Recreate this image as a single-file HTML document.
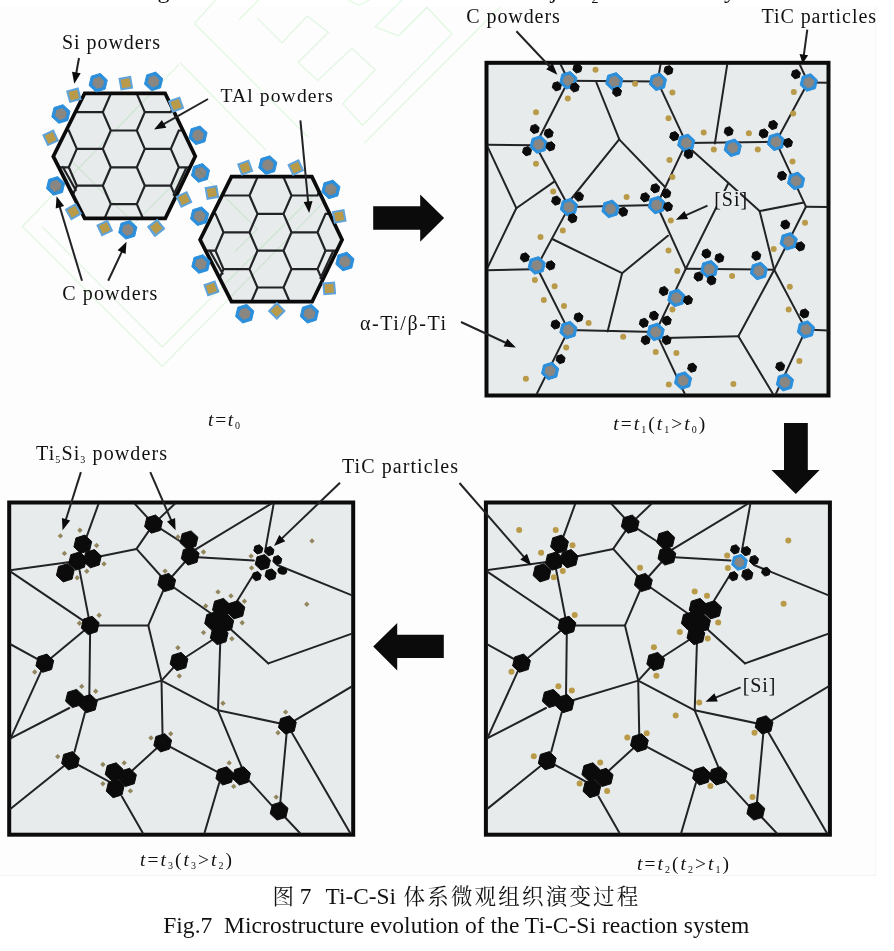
<!DOCTYPE html>
<html lang="zh"><head><meta charset="utf-8"><title>Fig.7</title>
<style>
html,body{margin:0;padding:0;background:#fff;}
body{width:894px;height:951px;overflow:hidden;position:relative;}
svg{position:absolute;left:0;top:0;display:block;will-change:transform;}
text{font-family:"Liberation Serif","Noto Serif CJK SC",serif;fill:#111;}
.cj{font-family:"Liberation Serif","Noto Serif CJK SC",serif;}
.it{font-style:italic;}
</style></head><body>
<svg width="894" height="951" viewBox="0 0 894 951">
<rect x="0" y="0" width="894" height="951" fill="#ffffff"/>
<rect x="0" y="6.5" width="875.7" height="869" fill="#fdfdfd"/>
<path d="M0,875.5H875.7V6.5" fill="none" stroke="#f1f1f1" stroke-width="0.8"/>
<text x="157.5" y="-2.4" font-size="24">g</text>
<text x="550.5" y="-2.4" font-size="24">j</text>
<text x="724" y="-2.4" font-size="24">y</text>
<text x="591.5" y="2.6" font-size="14">2</text>
<clipPath id="hc1"><polygon points="84.7,93.3 165.1,93.3 195.3,156.3 165.3,218.3 84.7,218.3 53.3,156.4"/></clipPath>
<polygon points="84.7,93.3 165.1,93.3 195.3,156.3 165.3,218.3 84.7,218.3 53.3,156.4" fill="#e8ebec"/>
<path clip-path="url(#hc1)" d="M76.8,112.1L68.8,93.7M42.8,130.5L68.8,130.5M76.8,148.9L68.8,130.5M68.8,167.3L76.8,148.9M42.8,167.3L68.8,167.3M76.8,185.7L68.8,167.3M68.8,204.1L76.8,185.7M110.8,93.7L102.8,75.3M102.8,112.1L110.8,93.7M76.8,112.1L102.8,112.1M110.8,130.5L102.8,112.1M102.8,148.9L110.8,130.5M76.8,148.9L102.8,148.9M110.8,167.3L102.8,148.9M102.8,185.7L110.8,167.3M76.8,185.7L102.8,185.7M110.8,204.1L102.8,185.7M102.8,222.5L110.8,204.1M136.8,93.7L144.8,75.3M144.8,112.1L136.8,93.7M136.8,130.5L144.8,112.1M110.8,130.5L136.8,130.5M144.8,148.9L136.8,130.5M136.8,167.3L144.8,148.9M110.8,167.3L136.8,167.3M144.8,185.7L136.8,167.3M136.8,204.1L144.8,185.7M110.8,204.1L136.8,204.1M144.8,222.5L136.8,204.1M170.8,112.1L178.8,93.7M144.8,112.1L170.8,112.1M170.8,148.9L178.8,130.5M144.8,148.9L170.8,148.9M178.8,167.3L170.8,148.9M170.8,185.7L178.8,167.3M144.8,185.7L170.8,185.7M178.8,204.1L170.8,185.7M178.8,130.5L204.8,130.5M178.8,167.3L204.8,167.3M62.8,167.0L75.8,190.1M186.1,168.2L173.7,194.8" fill="none" stroke="#222326" stroke-width="2.2" stroke-linecap="round"/>
<polygon points="84.7,93.3 165.1,93.3 195.3,156.3 165.3,218.3 84.7,218.3 53.3,156.4" fill="none" stroke="#0b0b0b" stroke-width="3.7" stroke-linejoin="miter"/>
<clipPath id="hc2"><polygon points="231.5,176.7 311.9,176.7 342.1,239.7 312.1,301.7 231.5,301.7 200.1,239.8"/></clipPath>
<polygon points="231.5,176.7 311.9,176.7 342.1,239.7 312.1,301.7 231.5,301.7 200.1,239.8" fill="#e8ebec"/>
<path clip-path="url(#hc2)" d="M223.5,195.5L215.5,177.1M189.5,213.9L215.5,213.9M223.5,232.3L215.5,213.9M215.5,250.7L223.5,232.3M189.5,250.7L215.5,250.7M223.5,269.1L215.5,250.7M215.5,287.5L223.5,269.1M257.5,177.1L249.5,158.7M249.5,195.5L257.5,177.1M223.5,195.5L249.5,195.5M257.5,213.9L249.5,195.5M249.5,232.3L257.5,213.9M223.5,232.3L249.5,232.3M257.5,250.7L249.5,232.3M249.5,269.1L257.5,250.7M223.5,269.1L249.5,269.1M257.5,287.5L249.5,269.1M249.5,305.9L257.5,287.5M283.5,177.1L291.5,158.7M291.5,195.5L283.5,177.1M283.5,213.9L291.5,195.5M257.5,213.9L283.5,213.9M291.5,232.3L283.5,213.9M283.5,250.7L291.5,232.3M257.5,250.7L283.5,250.7M291.5,269.1L283.5,250.7M283.5,287.5L291.5,269.1M257.5,287.5L283.5,287.5M291.5,305.9L283.5,287.5M317.5,195.5L325.5,177.1M291.5,195.5L317.5,195.5M317.5,232.3L325.5,213.9M291.5,232.3L317.5,232.3M325.5,250.7L317.5,232.3M317.5,269.1L325.5,250.7M291.5,269.1L317.5,269.1M325.5,287.5L317.5,269.1M325.5,213.9L351.5,213.9M325.5,250.7L351.5,250.7M209.6,250.4L222.6,273.5M332.9,251.6L320.5,278.2" fill="none" stroke="#222326" stroke-width="2.2" stroke-linecap="round"/>
<polygon points="231.5,176.7 311.9,176.7 342.1,239.7 312.1,301.7 231.5,301.7 200.1,239.8" fill="none" stroke="#0b0b0b" stroke-width="3.7" stroke-linejoin="miter"/>
<polygon points="107.3,79.9 105.1,89.2 96.1,92.0 89.1,85.5 91.3,76.2 100.3,73.4" fill="#2b8fdc" stroke="#2b8fdc" stroke-width="1" stroke-linejoin="round"/>
<polygon points="103.6,81.1 102.3,86.5 96.9,88.2 92.8,84.3 94.1,78.9 99.5,77.2" fill="#8a8682" stroke="#8a8682" stroke-width="1" stroke-linejoin="round"/>
<polygon points="162.7,78.6 160.5,87.9 151.5,90.7 144.5,84.2 146.7,74.9 155.7,72.1" fill="#2b8fdc" stroke="#2b8fdc" stroke-width="1" stroke-linejoin="round"/>
<polygon points="159.0,79.8 157.7,85.2 152.3,86.9 148.2,83.0 149.5,77.6 154.9,75.9" fill="#8a8682" stroke="#8a8682" stroke-width="1" stroke-linejoin="round"/>
<polygon points="207.1,132.5 204.9,141.8 195.9,144.6 188.9,138.1 191.1,128.8 200.1,126.0" fill="#2b8fdc" stroke="#2b8fdc" stroke-width="1" stroke-linejoin="round"/>
<polygon points="203.4,133.7 202.1,139.1 196.7,140.8 192.6,136.9 193.9,131.5 199.3,129.8" fill="#8a8682" stroke="#8a8682" stroke-width="1" stroke-linejoin="round"/>
<polygon points="209.6,170.1 207.4,179.4 198.4,182.2 191.4,175.7 193.6,166.4 202.6,163.6" fill="#2b8fdc" stroke="#2b8fdc" stroke-width="1" stroke-linejoin="round"/>
<polygon points="205.9,171.3 204.6,176.7 199.2,178.4 195.1,174.5 196.4,169.1 201.8,167.4" fill="#8a8682" stroke="#8a8682" stroke-width="1" stroke-linejoin="round"/>
<polygon points="208.7,213.4 206.5,222.7 197.5,225.5 190.5,219.0 192.7,209.7 201.7,206.9" fill="#2b8fdc" stroke="#2b8fdc" stroke-width="1" stroke-linejoin="round"/>
<polygon points="205.0,214.6 203.7,220.0 198.3,221.7 194.2,217.8 195.5,212.4 200.9,210.7" fill="#8a8682" stroke="#8a8682" stroke-width="1" stroke-linejoin="round"/>
<polygon points="136.9,227.0 134.7,236.3 125.7,239.1 118.7,232.6 120.9,223.3 129.9,220.5" fill="#2b8fdc" stroke="#2b8fdc" stroke-width="1" stroke-linejoin="round"/>
<polygon points="133.2,228.2 131.9,233.6 126.5,235.3 122.4,231.4 123.7,226.0 129.1,224.3" fill="#8a8682" stroke="#8a8682" stroke-width="1" stroke-linejoin="round"/>
<polygon points="64.7,183.1 62.5,192.4 53.5,195.2 46.5,188.7 48.7,179.4 57.7,176.6" fill="#2b8fdc" stroke="#2b8fdc" stroke-width="1" stroke-linejoin="round"/>
<polygon points="61.0,184.3 59.7,189.7 54.3,191.4 50.2,187.5 51.5,182.1 56.9,180.4" fill="#8a8682" stroke="#8a8682" stroke-width="1" stroke-linejoin="round"/>
<polygon points="70.0,111.2 67.8,120.5 58.8,123.3 51.8,116.8 54.0,107.5 63.0,104.7" fill="#2b8fdc" stroke="#2b8fdc" stroke-width="1" stroke-linejoin="round"/>
<polygon points="66.3,112.4 65.0,117.8 59.6,119.5 55.5,115.6 56.8,110.2 62.2,108.5" fill="#8a8682" stroke="#8a8682" stroke-width="1" stroke-linejoin="round"/>
<polygon points="276.9,162.3 274.7,171.6 265.7,174.4 258.7,167.9 260.9,158.6 269.9,155.8" fill="#2b8fdc" stroke="#2b8fdc" stroke-width="1" stroke-linejoin="round"/>
<polygon points="273.2,163.5 271.9,168.9 266.5,170.6 262.4,166.7 263.7,161.3 269.1,159.6" fill="#8a8682" stroke="#8a8682" stroke-width="1" stroke-linejoin="round"/>
<polygon points="340.0,186.6 337.8,195.9 328.8,198.7 321.8,192.2 324.0,182.9 333.0,180.1" fill="#2b8fdc" stroke="#2b8fdc" stroke-width="1" stroke-linejoin="round"/>
<polygon points="336.3,187.8 335.0,193.2 329.6,194.9 325.5,191.0 326.8,185.6 332.2,183.9" fill="#8a8682" stroke="#8a8682" stroke-width="1" stroke-linejoin="round"/>
<polygon points="354.0,258.7 351.8,268.0 342.8,270.8 335.8,264.3 338.0,255.0 347.0,252.2" fill="#2b8fdc" stroke="#2b8fdc" stroke-width="1" stroke-linejoin="round"/>
<polygon points="350.3,259.9 349.0,265.3 343.6,267.0 339.5,263.1 340.8,257.7 346.2,256.0" fill="#8a8682" stroke="#8a8682" stroke-width="1" stroke-linejoin="round"/>
<polygon points="318.5,310.9 316.3,320.2 307.3,323.0 300.3,316.5 302.5,307.2 311.5,304.4" fill="#2b8fdc" stroke="#2b8fdc" stroke-width="1" stroke-linejoin="round"/>
<polygon points="314.8,312.1 313.5,317.5 308.1,319.2 304.0,315.3 305.3,309.9 310.7,308.2" fill="#8a8682" stroke="#8a8682" stroke-width="1" stroke-linejoin="round"/>
<polygon points="253.8,310.9 251.6,320.2 242.6,323.0 235.6,316.5 237.8,307.2 246.8,304.4" fill="#2b8fdc" stroke="#2b8fdc" stroke-width="1" stroke-linejoin="round"/>
<polygon points="250.1,312.1 248.8,317.5 243.4,319.2 239.3,315.3 240.6,309.9 246.0,308.2" fill="#8a8682" stroke="#8a8682" stroke-width="1" stroke-linejoin="round"/>
<polygon points="210.0,261.2 207.8,270.5 198.8,273.3 191.8,266.8 194.0,257.5 203.0,254.7" fill="#2b8fdc" stroke="#2b8fdc" stroke-width="1" stroke-linejoin="round"/>
<polygon points="206.3,262.4 205.0,267.8 199.6,269.5 195.5,265.6 196.8,260.2 202.2,258.5" fill="#8a8682" stroke="#8a8682" stroke-width="1" stroke-linejoin="round"/>
<rect x="-5.4" y="-5.4" width="10.8" height="10.8" fill="#b99a48" stroke="#5fa3da" stroke-width="2.0" transform="translate(73.9,95.2) rotate(-15)"/>
<rect x="-5.4" y="-5.4" width="10.8" height="10.8" fill="#b99a48" stroke="#5fa3da" stroke-width="2.0" transform="translate(125.8,83.2) rotate(-10)"/>
<rect x="-5.4" y="-5.4" width="10.8" height="10.8" fill="#b99a48" stroke="#5fa3da" stroke-width="2.0" transform="translate(176.1,104.7) rotate(-20)"/>
<rect x="-5.4" y="-5.4" width="10.8" height="10.8" fill="#b99a48" stroke="#5fa3da" stroke-width="2.0" transform="translate(211.9,192.5) rotate(-10)"/>
<rect x="-5.4" y="-5.4" width="10.8" height="10.8" fill="#b99a48" stroke="#5fa3da" stroke-width="2.0" transform="translate(184.0,199.4) rotate(-25)"/>
<rect x="-5.4" y="-5.4" width="10.8" height="10.8" fill="#b99a48" stroke="#5fa3da" stroke-width="2.0" transform="translate(155.9,228.0) rotate(-35)"/>
<rect x="-5.4" y="-5.4" width="10.8" height="10.8" fill="#b99a48" stroke="#5fa3da" stroke-width="2.0" transform="translate(104.7,228.0) rotate(-25)"/>
<rect x="-5.4" y="-5.4" width="10.8" height="10.8" fill="#b99a48" stroke="#5fa3da" stroke-width="2.0" transform="translate(73.4,211.7) rotate(-30)"/>
<rect x="-5.4" y="-5.4" width="10.8" height="10.8" fill="#b99a48" stroke="#5fa3da" stroke-width="2.0" transform="translate(50.6,137.8) rotate(-25)"/>
<rect x="-5.4" y="-5.4" width="10.8" height="10.8" fill="#b99a48" stroke="#5fa3da" stroke-width="2.0" transform="translate(245.2,167.6) rotate(-20)"/>
<rect x="-5.4" y="-5.4" width="10.8" height="10.8" fill="#b99a48" stroke="#5fa3da" stroke-width="2.0" transform="translate(295.8,167.6) rotate(-25)"/>
<rect x="-5.4" y="-5.4" width="10.8" height="10.8" fill="#b99a48" stroke="#5fa3da" stroke-width="2.0" transform="translate(339.2,216.4) rotate(-10)"/>
<rect x="-5.4" y="-5.4" width="10.8" height="10.8" fill="#b99a48" stroke="#5fa3da" stroke-width="2.0" transform="translate(329.2,288.4) rotate(-5)"/>
<rect x="-5.4" y="-5.4" width="10.8" height="10.8" fill="#b99a48" stroke="#5fa3da" stroke-width="2.0" transform="translate(276.8,310.9) rotate(-45)"/>
<rect x="-5.4" y="-5.4" width="10.8" height="10.8" fill="#b99a48" stroke="#5fa3da" stroke-width="2.0" transform="translate(211.4,288.4) rotate(-20)"/>
<rect x="-5.4" y="-5.4" width="10.8" height="10.8" fill="#b99a48" stroke="#5fa3da" stroke-width="2.0" transform="translate(156.3,227.7) rotate(-40)"/>
<line x1="79.0" y1="58.0" x2="76.0" y2="74.5" stroke="#222326" stroke-width="2.0"/>
<polygon points="74.3,83.8 72.0,71.7 80.7,73.3" fill="#0b0b0b"/>
<line x1="208.0" y1="99.0" x2="162.4" y2="124.8" stroke="#222326" stroke-width="2.0"/>
<polygon points="154.1,129.5 161.9,120.0 166.3,127.7" fill="#0b0b0b"/>
<line x1="300.4" y1="120.3" x2="308.3" y2="203.5" stroke="#222326" stroke-width="2.0"/>
<polygon points="309.2,213.0 303.7,202.0 312.5,201.1" fill="#0b0b0b"/>
<line x1="82.0" y1="280.7" x2="59.3" y2="205.4" stroke="#222326" stroke-width="2.0"/>
<polygon points="56.6,196.3 64.1,206.0 55.7,208.6" fill="#0b0b0b"/>
<line x1="108.2" y1="280.7" x2="122.5" y2="250.4" stroke="#222326" stroke-width="2.0"/>
<polygon points="126.5,241.8 125.6,254.1 117.6,250.3" fill="#0b0b0b"/>
<polygon points="373.2,206.2 420.2,206.2 420.2,194.4 444.1,218 420.2,241.7 420.2,229.7 373.2,229.7" fill="#0b0b0b"/>
<polygon points="784,422.9 807.8,422.9 807.8,469.9 819.6,469.9 795.8,494.1 771.5,469.9 784,469.9" fill="#0b0b0b"/>
<polygon points="373.2,646.6 397.2,623.1 397.2,634.8 443.8,634.8 443.8,658 397.2,658 397.2,670.5" fill="#0b0b0b"/>
<rect x="486.5" y="62.8" width="342.0" height="332.7" fill="#e8ebec" stroke="#0b0b0b" stroke-width="4"/>
<clipPath id="pc2"><rect x="487.5" y="63.8" width="340.0" height="330.7"/></clipPath>
<g clip-path="url(#pc2)">
<line x1="568.4" y1="80.8" x2="657.6" y2="81.6" stroke="#222326" stroke-width="2.0" stroke-linecap="round"/>
<line x1="568.4" y1="80.8" x2="535.4" y2="145.2" stroke="#222326" stroke-width="2.0" stroke-linecap="round"/>
<line x1="535.4" y1="145.2" x2="568.9" y2="207.1" stroke="#222326" stroke-width="2.0" stroke-linecap="round"/>
<line x1="568.9" y1="207.1" x2="656.8" y2="205.0" stroke="#222326" stroke-width="2.0" stroke-linecap="round"/>
<line x1="657.6" y1="81.6" x2="686.2" y2="142.9" stroke="#222326" stroke-width="2.0" stroke-linecap="round"/>
<line x1="686.2" y1="142.9" x2="656.8" y2="205.0" stroke="#222326" stroke-width="2.0" stroke-linecap="round"/>
<line x1="686.2" y1="142.9" x2="776.0" y2="141.8" stroke="#222326" stroke-width="2.0" stroke-linecap="round"/>
<line x1="776.0" y1="141.8" x2="805.9" y2="206.7" stroke="#222326" stroke-width="2.0" stroke-linecap="round"/>
<line x1="805.9" y1="206.7" x2="774.2" y2="269.7" stroke="#222326" stroke-width="2.0" stroke-linecap="round"/>
<line x1="774.2" y1="269.7" x2="685.8" y2="268.8" stroke="#222326" stroke-width="2.0" stroke-linecap="round"/>
<line x1="685.8" y1="268.8" x2="656.8" y2="205.0" stroke="#222326" stroke-width="2.0" stroke-linecap="round"/>
<line x1="568.9" y1="207.1" x2="536.7" y2="267.0" stroke="#222326" stroke-width="2.0" stroke-linecap="round"/>
<line x1="536.7" y1="267.0" x2="568.4" y2="330.1" stroke="#222326" stroke-width="2.0" stroke-linecap="round"/>
<line x1="568.4" y1="330.1" x2="655.7" y2="331.9" stroke="#222326" stroke-width="2.0" stroke-linecap="round"/>
<line x1="655.7" y1="331.9" x2="685.8" y2="268.8" stroke="#222326" stroke-width="2.0" stroke-linecap="round"/>
<line x1="774.2" y1="269.7" x2="805.9" y2="329.6" stroke="#222326" stroke-width="2.0" stroke-linecap="round"/>
<line x1="808.0" y1="82.5" x2="776.0" y2="141.8" stroke="#222326" stroke-width="2.0" stroke-linecap="round"/>
<line x1="568.4" y1="80.8" x2="558.5" y2="60.0" stroke="#222326" stroke-width="2.0" stroke-linecap="round"/>
<line x1="657.6" y1="81.6" x2="661.3" y2="60.0" stroke="#222326" stroke-width="2.0" stroke-linecap="round"/>
<line x1="808.0" y1="82.5" x2="797.7" y2="60.0" stroke="#222326" stroke-width="2.0" stroke-linecap="round"/>
<line x1="808.0" y1="82.5" x2="832.0" y2="82.8" stroke="#222326" stroke-width="2.0" stroke-linecap="round"/>
<line x1="805.9" y1="206.7" x2="832.0" y2="207.0" stroke="#222326" stroke-width="2.0" stroke-linecap="round"/>
<line x1="805.9" y1="329.6" x2="832.0" y2="330.6" stroke="#222326" stroke-width="2.0" stroke-linecap="round"/>
<line x1="480.0" y1="144.8" x2="535.4" y2="145.2" stroke="#222326" stroke-width="2.0" stroke-linecap="round"/>
<line x1="480.0" y1="270.4" x2="532.0" y2="269.3" stroke="#222326" stroke-width="2.0" stroke-linecap="round"/>
<line x1="568.4" y1="330.1" x2="535.2" y2="397.0" stroke="#222326" stroke-width="2.0" stroke-linecap="round"/>
<line x1="655.7" y1="331.9" x2="686.7" y2="398.0" stroke="#222326" stroke-width="2.0" stroke-linecap="round"/>
<line x1="805.9" y1="329.6" x2="773.9" y2="398.0" stroke="#222326" stroke-width="2.0" stroke-linecap="round"/>
<line x1="596.4" y1="82.5" x2="619.4" y2="139.6" stroke="#222326" stroke-width="2.0" stroke-linecap="round"/>
<line x1="619.0" y1="139.6" x2="565.5" y2="206.0" stroke="#222326" stroke-width="2.0" stroke-linecap="round"/>
<line x1="619.4" y1="139.6" x2="665.0" y2="187.0" stroke="#222326" stroke-width="2.0" stroke-linecap="round"/>
<line x1="487.9" y1="147.4" x2="516.3" y2="208.2" stroke="#222326" stroke-width="2.0" stroke-linecap="round"/>
<line x1="516.3" y1="208.2" x2="554.6" y2="181.4" stroke="#222326" stroke-width="2.0" stroke-linecap="round"/>
<line x1="516.3" y1="208.2" x2="487.9" y2="267.0" stroke="#222326" stroke-width="2.0" stroke-linecap="round"/>
<line x1="727.6" y1="62.0" x2="714.9" y2="143.4" stroke="#222326" stroke-width="2.0" stroke-linecap="round"/>
<line x1="686.2" y1="145.0" x2="759.6" y2="211.1" stroke="#222326" stroke-width="2.0" stroke-linecap="round"/>
<line x1="759.6" y1="211.1" x2="803.8" y2="202.6" stroke="#222326" stroke-width="2.0" stroke-linecap="round"/>
<line x1="759.6" y1="211.1" x2="774.2" y2="269.7" stroke="#222326" stroke-width="2.0" stroke-linecap="round"/>
<line x1="728.3" y1="183.2" x2="685.8" y2="268.8" stroke="#222326" stroke-width="2.0" stroke-linecap="round"/>
<line x1="552.3" y1="239.0" x2="622.1" y2="273.2" stroke="#222326" stroke-width="2.0" stroke-linecap="round"/>
<line x1="622.1" y1="273.2" x2="667.9" y2="235.7" stroke="#222326" stroke-width="2.0" stroke-linecap="round"/>
<line x1="622.1" y1="273.2" x2="607.6" y2="331.4" stroke="#222326" stroke-width="2.0" stroke-linecap="round"/>
<line x1="774.2" y1="269.7" x2="738.4" y2="336.3" stroke="#222326" stroke-width="2.0" stroke-linecap="round"/>
<line x1="738.4" y1="336.3" x2="664.0" y2="338.0" stroke="#222326" stroke-width="2.0" stroke-linecap="round"/>
<line x1="738.4" y1="336.3" x2="774.2" y2="396.0" stroke="#222326" stroke-width="2.0" stroke-linecap="round"/>
<circle cx="595.5" cy="69.8" r="3.0" fill="#b99a48"/>
<circle cx="635.1" cy="83.8" r="3.0" fill="#b99a48"/>
<circle cx="567.8" cy="98.6" r="3.0" fill="#b99a48"/>
<circle cx="536.0" cy="112.3" r="3.0" fill="#b99a48"/>
<circle cx="536.0" cy="163.7" r="3.0" fill="#b99a48"/>
<circle cx="553.2" cy="191.5" r="3.0" fill="#b99a48"/>
<circle cx="626.6" cy="197.0" r="3.0" fill="#b99a48"/>
<circle cx="562.8" cy="230.6" r="3.0" fill="#b99a48"/>
<circle cx="540.5" cy="236.9" r="3.0" fill="#b99a48"/>
<circle cx="668.5" cy="118.3" r="3.0" fill="#b99a48"/>
<circle cx="669.5" cy="160.0" r="3.0" fill="#b99a48"/>
<circle cx="672.4" cy="92.6" r="3.0" fill="#b99a48"/>
<circle cx="703.7" cy="132.4" r="3.0" fill="#b99a48"/>
<circle cx="713.8" cy="149.6" r="3.0" fill="#b99a48"/>
<circle cx="748.9" cy="133.3" r="3.0" fill="#b99a48"/>
<circle cx="757.8" cy="149.6" r="3.0" fill="#b99a48"/>
<circle cx="793.8" cy="91.9" r="3.0" fill="#b99a48"/>
<circle cx="793.2" cy="113.4" r="3.0" fill="#b99a48"/>
<circle cx="792.5" cy="161.5" r="3.0" fill="#b99a48"/>
<circle cx="672.4" cy="177.1" r="3.0" fill="#b99a48"/>
<circle cx="670.8" cy="220.4" r="3.0" fill="#b99a48"/>
<circle cx="805.0" cy="222.8" r="3.0" fill="#b99a48"/>
<circle cx="534.9" cy="280.0" r="3.0" fill="#b99a48"/>
<circle cx="554.6" cy="286.2" r="3.0" fill="#b99a48"/>
<circle cx="543.8" cy="299.9" r="3.0" fill="#b99a48"/>
<circle cx="564.0" cy="306.1" r="3.0" fill="#b99a48"/>
<circle cx="588.6" cy="322.9" r="3.0" fill="#b99a48"/>
<circle cx="623.2" cy="336.8" r="3.0" fill="#b99a48"/>
<circle cx="566.2" cy="347.5" r="3.0" fill="#b99a48"/>
<circle cx="525.9" cy="378.8" r="3.0" fill="#b99a48"/>
<circle cx="655.7" cy="352.0" r="3.0" fill="#b99a48"/>
<circle cx="668.5" cy="250.6" r="3.0" fill="#b99a48"/>
<circle cx="668.8" cy="384.4" r="3.0" fill="#b99a48"/>
<circle cx="773.7" cy="249.1" r="3.0" fill="#b99a48"/>
<circle cx="677.3" cy="271.0" r="3.0" fill="#b99a48"/>
<circle cx="732.1" cy="275.9" r="3.0" fill="#b99a48"/>
<circle cx="789.8" cy="286.7" r="3.0" fill="#b99a48"/>
<circle cx="788.7" cy="309.5" r="3.0" fill="#b99a48"/>
<circle cx="672.4" cy="309.5" r="3.0" fill="#b99a48"/>
<circle cx="676.4" cy="353.1" r="3.0" fill="#b99a48"/>
<circle cx="799.4" cy="360.9" r="3.0" fill="#b99a48"/>
<circle cx="733.4" cy="384.0" r="3.0" fill="#b99a48"/>
<polygon points="577.0,77.7 575.0,86.4 566.4,89.1 559.8,82.9 561.8,74.2 570.4,71.5" fill="#2b8fdc" stroke="#2b8fdc" stroke-width="1" stroke-linejoin="round"/>
<polygon points="573.5,78.7 572.3,83.9 567.2,85.5 563.3,81.9 564.5,76.7 569.6,75.1" fill="#8a8682" stroke="#8a8682" stroke-width="1" stroke-linejoin="round"/>
<polygon points="622.9,78.8 620.9,87.5 612.3,90.2 605.7,84.0 607.7,75.3 616.3,72.6" fill="#2b8fdc" stroke="#2b8fdc" stroke-width="1" stroke-linejoin="round"/>
<polygon points="619.4,79.8 618.2,85.0 613.1,86.6 609.2,83.0 610.4,77.8 615.5,76.2" fill="#8a8682" stroke="#8a8682" stroke-width="1" stroke-linejoin="round"/>
<polygon points="666.5,79.2 664.5,87.9 655.9,90.6 649.3,84.4 651.3,75.7 659.9,73.0" fill="#2b8fdc" stroke="#2b8fdc" stroke-width="1" stroke-linejoin="round"/>
<polygon points="663.0,80.2 661.8,85.4 656.7,87.0 652.8,83.4 654.0,78.2 659.1,76.6" fill="#8a8682" stroke="#8a8682" stroke-width="1" stroke-linejoin="round"/>
<polygon points="817.4,79.9 815.4,88.6 806.8,91.3 800.2,85.1 802.2,76.4 810.8,73.7" fill="#2b8fdc" stroke="#2b8fdc" stroke-width="1" stroke-linejoin="round"/>
<polygon points="813.9,80.9 812.7,86.1 807.6,87.7 803.7,84.1 804.9,78.9 810.0,77.3" fill="#8a8682" stroke="#8a8682" stroke-width="1" stroke-linejoin="round"/>
<polygon points="547.3,141.9 545.3,150.6 536.7,153.3 530.1,147.1 532.1,138.4 540.7,135.7" fill="#2b8fdc" stroke="#2b8fdc" stroke-width="1" stroke-linejoin="round"/>
<polygon points="543.8,142.9 542.6,148.1 537.5,149.7 533.6,146.1 534.8,140.9 539.9,139.3" fill="#8a8682" stroke="#8a8682" stroke-width="1" stroke-linejoin="round"/>
<polygon points="694.8,140.3 692.8,149.0 684.2,151.7 677.6,145.5 679.6,136.8 688.2,134.1" fill="#2b8fdc" stroke="#2b8fdc" stroke-width="1" stroke-linejoin="round"/>
<polygon points="691.3,141.3 690.1,146.5 685.0,148.1 681.1,144.5 682.3,139.3 687.4,137.7" fill="#8a8682" stroke="#8a8682" stroke-width="1" stroke-linejoin="round"/>
<polygon points="741.4,145.2 739.4,153.9 730.8,156.6 724.2,150.4 726.2,141.7 734.8,139.0" fill="#2b8fdc" stroke="#2b8fdc" stroke-width="1" stroke-linejoin="round"/>
<polygon points="737.9,146.2 736.7,151.4 731.6,153.0 727.7,149.4 728.9,144.2 734.0,142.6" fill="#8a8682" stroke="#8a8682" stroke-width="1" stroke-linejoin="round"/>
<polygon points="784.6,139.2 782.6,147.9 774.0,150.6 767.4,144.4 769.4,135.7 778.0,133.0" fill="#2b8fdc" stroke="#2b8fdc" stroke-width="1" stroke-linejoin="round"/>
<polygon points="781.1,140.2 779.9,145.4 774.8,147.0 770.9,143.4 772.1,138.2 777.2,136.6" fill="#8a8682" stroke="#8a8682" stroke-width="1" stroke-linejoin="round"/>
<polygon points="804.7,178.3 802.7,187.0 794.1,189.7 787.5,183.5 789.5,174.8 798.1,172.1" fill="#2b8fdc" stroke="#2b8fdc" stroke-width="1" stroke-linejoin="round"/>
<polygon points="801.2,179.3 800.0,184.5 794.9,186.1 791.0,182.5 792.2,177.3 797.3,175.7" fill="#8a8682" stroke="#8a8682" stroke-width="1" stroke-linejoin="round"/>
<polygon points="577.5,204.5 575.5,213.2 566.9,215.9 560.3,209.7 562.3,201.0 570.9,198.3" fill="#2b8fdc" stroke="#2b8fdc" stroke-width="1" stroke-linejoin="round"/>
<polygon points="574.0,205.5 572.8,210.7 567.7,212.3 563.8,208.7 565.0,203.5 570.1,201.9" fill="#8a8682" stroke="#8a8682" stroke-width="1" stroke-linejoin="round"/>
<polygon points="619.1,206.3 617.1,215.0 608.5,217.7 601.9,211.5 603.9,202.8 612.5,200.1" fill="#2b8fdc" stroke="#2b8fdc" stroke-width="1" stroke-linejoin="round"/>
<polygon points="615.6,207.3 614.4,212.5 609.3,214.1 605.4,210.5 606.6,205.3 611.7,203.7" fill="#8a8682" stroke="#8a8682" stroke-width="1" stroke-linejoin="round"/>
<polygon points="665.4,202.4 663.4,211.1 654.8,213.8 648.2,207.6 650.2,198.9 658.8,196.2" fill="#2b8fdc" stroke="#2b8fdc" stroke-width="1" stroke-linejoin="round"/>
<polygon points="661.9,203.4 660.7,208.6 655.6,210.2 651.7,206.6 652.9,201.4 658.0,199.8" fill="#8a8682" stroke="#8a8682" stroke-width="1" stroke-linejoin="round"/>
<polygon points="797.3,238.7 795.3,247.4 786.7,250.1 780.1,243.9 782.1,235.2 790.7,232.5" fill="#2b8fdc" stroke="#2b8fdc" stroke-width="1" stroke-linejoin="round"/>
<polygon points="793.8,239.7 792.6,244.9 787.5,246.5 783.6,242.9 784.8,237.7 789.9,236.1" fill="#8a8682" stroke="#8a8682" stroke-width="1" stroke-linejoin="round"/>
<polygon points="545.3,262.8 543.3,271.5 534.7,274.2 528.1,268.0 530.1,259.3 538.7,256.6" fill="#2b8fdc" stroke="#2b8fdc" stroke-width="1" stroke-linejoin="round"/>
<polygon points="541.8,263.8 540.6,269.0 535.5,270.6 531.6,267.0 532.8,261.8 537.9,260.2" fill="#8a8682" stroke="#8a8682" stroke-width="1" stroke-linejoin="round"/>
<polygon points="717.9,266.6 715.9,275.3 707.3,278.0 700.7,271.8 702.7,263.1 711.3,260.4" fill="#2b8fdc" stroke="#2b8fdc" stroke-width="1" stroke-linejoin="round"/>
<polygon points="714.4,267.6 713.2,272.8 708.1,274.4 704.2,270.8 705.4,265.6 710.5,264.0" fill="#8a8682" stroke="#8a8682" stroke-width="1" stroke-linejoin="round"/>
<polygon points="767.5,268.4 765.5,277.1 756.9,279.8 750.3,273.6 752.3,264.9 760.9,262.2" fill="#2b8fdc" stroke="#2b8fdc" stroke-width="1" stroke-linejoin="round"/>
<polygon points="764.0,269.4 762.8,274.6 757.7,276.2 753.8,272.6 755.0,267.4 760.1,265.8" fill="#8a8682" stroke="#8a8682" stroke-width="1" stroke-linejoin="round"/>
<polygon points="685.0,295.3 683.0,304.0 674.4,306.7 667.8,300.5 669.8,291.8 678.4,289.1" fill="#2b8fdc" stroke="#2b8fdc" stroke-width="1" stroke-linejoin="round"/>
<polygon points="681.5,296.3 680.3,301.5 675.2,303.1 671.3,299.5 672.5,294.3 677.6,292.7" fill="#8a8682" stroke="#8a8682" stroke-width="1" stroke-linejoin="round"/>
<polygon points="577.0,327.5 575.0,336.2 566.4,338.9 559.8,332.7 561.8,324.0 570.4,321.3" fill="#2b8fdc" stroke="#2b8fdc" stroke-width="1" stroke-linejoin="round"/>
<polygon points="573.5,328.5 572.3,333.7 567.2,335.3 563.3,331.7 564.5,326.5 569.6,324.9" fill="#8a8682" stroke="#8a8682" stroke-width="1" stroke-linejoin="round"/>
<polygon points="664.3,329.3 662.3,338.0 653.7,340.7 647.1,334.5 649.1,325.8 657.7,323.1" fill="#2b8fdc" stroke="#2b8fdc" stroke-width="1" stroke-linejoin="round"/>
<polygon points="660.8,330.3 659.6,335.5 654.5,337.1 650.6,333.5 651.8,328.3 656.9,326.7" fill="#8a8682" stroke="#8a8682" stroke-width="1" stroke-linejoin="round"/>
<polygon points="814.5,327.0 812.5,335.7 803.9,338.4 797.3,332.2 799.3,323.5 807.9,320.8" fill="#2b8fdc" stroke="#2b8fdc" stroke-width="1" stroke-linejoin="round"/>
<polygon points="811.0,328.0 809.8,333.2 804.7,334.8 800.8,331.2 802.0,326.0 807.1,324.4" fill="#8a8682" stroke="#8a8682" stroke-width="1" stroke-linejoin="round"/>
<polygon points="558.7,368.4 556.7,377.1 548.1,379.8 541.5,373.6 543.5,364.9 552.1,362.2" fill="#2b8fdc" stroke="#2b8fdc" stroke-width="1" stroke-linejoin="round"/>
<polygon points="555.2,369.4 554.0,374.6 548.9,376.2 545.0,372.6 546.2,367.4 551.3,365.8" fill="#8a8682" stroke="#8a8682" stroke-width="1" stroke-linejoin="round"/>
<polygon points="691.7,378.0 689.7,386.7 681.1,389.4 674.5,383.2 676.5,374.5 685.1,371.8" fill="#2b8fdc" stroke="#2b8fdc" stroke-width="1" stroke-linejoin="round"/>
<polygon points="688.2,379.0 687.0,384.2 681.9,385.8 678.0,382.2 679.2,377.0 684.3,375.4" fill="#8a8682" stroke="#8a8682" stroke-width="1" stroke-linejoin="round"/>
<polygon points="793.5,379.6 791.5,388.3 782.9,391.0 776.3,384.8 778.3,376.1 786.9,373.4" fill="#2b8fdc" stroke="#2b8fdc" stroke-width="1" stroke-linejoin="round"/>
<polygon points="790.0,380.6 788.8,385.8 783.7,387.4 779.8,383.8 781.0,378.6 786.1,377.0" fill="#8a8682" stroke="#8a8682" stroke-width="1" stroke-linejoin="round"/>
<polygon points="581.9,67.0 580.8,71.6 576.3,73.0 572.9,69.8 574.0,65.2 578.5,63.8" fill="#0b0b0b" stroke="#0b0b0b" stroke-width="1" stroke-linejoin="round"/>
<polygon points="561.3,84.9 560.2,89.5 555.7,90.9 552.3,87.7 553.4,83.1 557.9,81.7" fill="#0b0b0b" stroke="#0b0b0b" stroke-width="1" stroke-linejoin="round"/>
<polygon points="579.2,86.0 578.1,90.6 573.6,92.0 570.2,88.8 571.3,84.2 575.8,82.8" fill="#0b0b0b" stroke="#0b0b0b" stroke-width="1" stroke-linejoin="round"/>
<polygon points="621.5,90.5 620.4,95.1 615.9,96.5 612.5,93.3 613.6,88.7 618.1,87.3" fill="#0b0b0b" stroke="#0b0b0b" stroke-width="1" stroke-linejoin="round"/>
<polygon points="673.0,68.8 671.9,73.4 667.4,74.8 664.0,71.6 665.1,67.0 669.6,65.6" fill="#0b0b0b" stroke="#0b0b0b" stroke-width="1" stroke-linejoin="round"/>
<polygon points="539.2,127.6 538.1,132.2 533.6,133.6 530.2,130.4 531.3,125.8 535.8,124.4" fill="#0b0b0b" stroke="#0b0b0b" stroke-width="1" stroke-linejoin="round"/>
<polygon points="553.2,131.9 552.1,136.5 547.6,137.9 544.2,134.7 545.3,130.1 549.8,128.7" fill="#0b0b0b" stroke="#0b0b0b" stroke-width="1" stroke-linejoin="round"/>
<polygon points="555.0,144.9 553.9,149.5 549.4,150.9 546.0,147.7 547.1,143.1 551.6,141.7" fill="#0b0b0b" stroke="#0b0b0b" stroke-width="1" stroke-linejoin="round"/>
<polygon points="531.5,149.8 530.4,154.4 525.9,155.8 522.5,152.6 523.6,148.0 528.1,146.6" fill="#0b0b0b" stroke="#0b0b0b" stroke-width="1" stroke-linejoin="round"/>
<polygon points="583.5,195.2 582.4,199.8 577.9,201.2 574.5,198.0 575.6,193.4 580.1,192.0" fill="#0b0b0b" stroke="#0b0b0b" stroke-width="1" stroke-linejoin="round"/>
<polygon points="560.6,199.2 559.5,203.8 555.0,205.2 551.6,202.0 552.7,197.4 557.2,196.0" fill="#0b0b0b" stroke="#0b0b0b" stroke-width="1" stroke-linejoin="round"/>
<polygon points="577.0,216.9 575.9,221.5 571.4,222.9 568.0,219.7 569.1,215.1 573.6,213.7" fill="#0b0b0b" stroke="#0b0b0b" stroke-width="1" stroke-linejoin="round"/>
<polygon points="627.7,210.4 626.6,215.0 622.1,216.4 618.7,213.2 619.8,208.6 624.3,207.2" fill="#0b0b0b" stroke="#0b0b0b" stroke-width="1" stroke-linejoin="round"/>
<polygon points="659.7,186.9 658.6,191.5 654.1,192.9 650.7,189.7 651.8,185.1 656.3,183.7" fill="#0b0b0b" stroke="#0b0b0b" stroke-width="1" stroke-linejoin="round"/>
<polygon points="649.5,195.9 648.4,200.5 643.9,201.9 640.5,198.7 641.6,194.1 646.1,192.7" fill="#0b0b0b" stroke="#0b0b0b" stroke-width="1" stroke-linejoin="round"/>
<polygon points="670.8,192.1 669.7,196.7 665.2,198.1 661.8,194.9 662.9,190.3 667.4,188.9" fill="#0b0b0b" stroke="#0b0b0b" stroke-width="1" stroke-linejoin="round"/>
<polygon points="672.5,205.3 671.4,209.9 666.9,211.3 663.5,208.1 664.6,203.5 669.1,202.1" fill="#0b0b0b" stroke="#0b0b0b" stroke-width="1" stroke-linejoin="round"/>
<polygon points="800.4,72.8 799.3,77.4 794.8,78.8 791.4,75.6 792.5,71.0 797.0,69.6" fill="#0b0b0b" stroke="#0b0b0b" stroke-width="1" stroke-linejoin="round"/>
<polygon points="678.7,134.8 677.6,139.4 673.1,140.8 669.7,137.6 670.8,133.0 675.3,131.6" fill="#0b0b0b" stroke="#0b0b0b" stroke-width="1" stroke-linejoin="round"/>
<polygon points="693.0,152.7 691.9,157.3 687.4,158.7 684.0,155.5 685.1,150.9 689.6,149.5" fill="#0b0b0b" stroke="#0b0b0b" stroke-width="1" stroke-linejoin="round"/>
<polygon points="733.2,129.9 732.1,134.5 727.6,135.9 724.2,132.7 725.3,128.1 729.8,126.7" fill="#0b0b0b" stroke="#0b0b0b" stroke-width="1" stroke-linejoin="round"/>
<polygon points="777.5,123.6 776.4,128.2 771.9,129.6 768.5,126.4 769.6,121.8 774.1,120.4" fill="#0b0b0b" stroke="#0b0b0b" stroke-width="1" stroke-linejoin="round"/>
<polygon points="768.1,132.1 767.0,136.7 762.5,138.1 759.1,134.9 760.2,130.3 764.7,128.9" fill="#0b0b0b" stroke="#0b0b0b" stroke-width="1" stroke-linejoin="round"/>
<polygon points="792.5,141.5 791.4,146.1 786.9,147.5 783.5,144.3 784.6,139.7 789.1,138.3" fill="#0b0b0b" stroke="#0b0b0b" stroke-width="1" stroke-linejoin="round"/>
<polygon points="786.5,174.4 785.4,179.0 780.9,180.4 777.5,177.2 778.6,172.6 783.1,171.2" fill="#0b0b0b" stroke="#0b0b0b" stroke-width="1" stroke-linejoin="round"/>
<polygon points="789.8,223.2 788.7,227.8 784.2,229.2 780.8,226.0 781.9,221.4 786.4,220.0" fill="#0b0b0b" stroke="#0b0b0b" stroke-width="1" stroke-linejoin="round"/>
<polygon points="529.3,256.0 528.2,260.6 523.7,262.0 520.3,258.8 521.4,254.2 525.9,252.8" fill="#0b0b0b" stroke="#0b0b0b" stroke-width="1" stroke-linejoin="round"/>
<polygon points="555.0,264.0 553.9,268.6 549.4,270.0 546.0,266.8 547.1,262.2 551.6,260.8" fill="#0b0b0b" stroke="#0b0b0b" stroke-width="1" stroke-linejoin="round"/>
<polygon points="583.0,315.9 581.9,320.5 577.4,321.9 574.0,318.7 575.1,314.1 579.6,312.7" fill="#0b0b0b" stroke="#0b0b0b" stroke-width="1" stroke-linejoin="round"/>
<polygon points="560.0,323.1 558.9,327.7 554.4,329.1 551.0,325.9 552.1,321.3 556.6,319.9" fill="#0b0b0b" stroke="#0b0b0b" stroke-width="1" stroke-linejoin="round"/>
<polygon points="565.1,357.7 564.0,362.3 559.5,363.7 556.1,360.5 557.2,355.9 561.7,354.5" fill="#0b0b0b" stroke="#0b0b0b" stroke-width="1" stroke-linejoin="round"/>
<polygon points="668.2,289.7 667.1,294.3 662.6,295.7 659.2,292.5 660.3,287.9 664.8,286.5" fill="#0b0b0b" stroke="#0b0b0b" stroke-width="1" stroke-linejoin="round"/>
<polygon points="658.4,314.3 657.3,318.9 652.8,320.3 649.4,317.1 650.5,312.5 655.0,311.1" fill="#0b0b0b" stroke="#0b0b0b" stroke-width="1" stroke-linejoin="round"/>
<polygon points="648.3,321.5 647.2,326.1 642.7,327.5 639.3,324.3 640.4,319.7 644.9,318.3" fill="#0b0b0b" stroke="#0b0b0b" stroke-width="1" stroke-linejoin="round"/>
<polygon points="671.3,319.3 670.2,323.9 665.7,325.3 662.3,322.1 663.4,317.5 667.9,316.1" fill="#0b0b0b" stroke="#0b0b0b" stroke-width="1" stroke-linejoin="round"/>
<polygon points="650.1,338.7 649.0,343.3 644.5,344.7 641.1,341.5 642.2,336.9 646.7,335.5" fill="#0b0b0b" stroke="#0b0b0b" stroke-width="1" stroke-linejoin="round"/>
<polygon points="671.1,338.7 670.0,343.3 665.5,344.7 662.1,341.5 663.2,336.9 667.7,335.5" fill="#0b0b0b" stroke="#0b0b0b" stroke-width="1" stroke-linejoin="round"/>
<polygon points="804.8,245.0 803.7,249.6 799.2,251.0 795.8,247.8 796.9,243.2 801.4,241.8" fill="#0b0b0b" stroke="#0b0b0b" stroke-width="1" stroke-linejoin="round"/>
<polygon points="710.9,252.2 709.8,256.8 705.3,258.2 701.9,255.0 703.0,250.4 707.5,249.0" fill="#0b0b0b" stroke="#0b0b0b" stroke-width="1" stroke-linejoin="round"/>
<polygon points="723.9,256.6 722.8,261.2 718.3,262.6 714.9,259.4 716.0,254.8 720.5,253.4" fill="#0b0b0b" stroke="#0b0b0b" stroke-width="1" stroke-linejoin="round"/>
<polygon points="703.0,275.2 701.9,279.8 697.4,281.2 694.0,278.0 695.1,273.4 699.6,272.0" fill="#0b0b0b" stroke="#0b0b0b" stroke-width="1" stroke-linejoin="round"/>
<polygon points="716.0,279.0 714.9,283.6 710.4,285.0 707.0,281.8 708.1,277.2 712.6,275.8" fill="#0b0b0b" stroke="#0b0b0b" stroke-width="1" stroke-linejoin="round"/>
<polygon points="760.8,254.4 759.7,259.0 755.2,260.4 751.8,257.2 752.9,252.6 757.4,251.2" fill="#0b0b0b" stroke="#0b0b0b" stroke-width="1" stroke-linejoin="round"/>
<polygon points="692.5,298.7 691.4,303.3 686.9,304.7 683.5,301.5 684.6,296.9 689.1,295.5" fill="#0b0b0b" stroke="#0b0b0b" stroke-width="1" stroke-linejoin="round"/>
<polygon points="808.9,312.1 807.8,316.7 803.3,318.1 799.9,314.9 801.0,310.3 805.5,308.9" fill="#0b0b0b" stroke="#0b0b0b" stroke-width="1" stroke-linejoin="round"/>
<polygon points="696.6,366.3 695.5,370.9 691.0,372.3 687.6,369.1 688.7,364.5 693.2,363.1" fill="#0b0b0b" stroke="#0b0b0b" stroke-width="1" stroke-linejoin="round"/>
<polygon points="784.7,365.1 783.6,369.7 779.1,371.1 775.7,367.9 776.8,363.3 781.3,361.9" fill="#0b0b0b" stroke="#0b0b0b" stroke-width="1" stroke-linejoin="round"/>
</g>
<line x1="516.4" y1="31.3" x2="550.8" y2="67.8" stroke="#222326" stroke-width="2.0"/>
<polygon points="557.3,74.7 546.2,69.3 552.6,63.3" fill="#0b0b0b"/>
<line x1="807.3" y1="29.6" x2="803.6" y2="56.6" stroke="#222326" stroke-width="2.0"/>
<polygon points="802.6,63.5 799.5,54.0 808.2,55.2" fill="#0b0b0b"/>
<line x1="707.5" y1="205.6" x2="684.5" y2="215.9" stroke="#222326" stroke-width="2.0"/>
<polygon points="675.8,219.8 684.5,211.1 688.1,219.1" fill="#0b0b0b"/>
<line x1="461.0" y1="322.0" x2="507.3" y2="343.5" stroke="#222326" stroke-width="2.0"/>
<polygon points="515.9,347.5 503.6,346.6 507.3,338.7" fill="#0b0b0b"/>
<rect x="485.9" y="502.5" width="344.0" height="332.2" fill="#e8ebec" stroke="#0b0b0b" stroke-width="4"/>
<clipPath id="pc3"><rect x="486.9" y="503.5" width="342.0" height="330.2"/></clipPath>
<g clip-path="url(#pc3)">
<line x1="484.0" y1="570.6" x2="554.0" y2="561.0" stroke="#222326" stroke-width="2.0" stroke-linecap="round"/>
<line x1="554.0" y1="561.0" x2="613.2" y2="548.9" stroke="#222326" stroke-width="2.0" stroke-linecap="round"/>
<line x1="575.1" y1="504.2" x2="562.8" y2="538.2" stroke="#222326" stroke-width="2.0" stroke-linecap="round"/>
<line x1="609.8" y1="502.0" x2="630.2" y2="524.1" stroke="#222326" stroke-width="2.0" stroke-linecap="round"/>
<line x1="653.4" y1="502.0" x2="630.2" y2="524.1" stroke="#222326" stroke-width="2.0" stroke-linecap="round"/>
<line x1="630.2" y1="524.1" x2="613.2" y2="548.9" stroke="#222326" stroke-width="2.0" stroke-linecap="round"/>
<line x1="630.2" y1="524.1" x2="665.7" y2="547.0" stroke="#222326" stroke-width="2.0" stroke-linecap="round"/>
<line x1="613.2" y1="548.9" x2="643.4" y2="582.5" stroke="#222326" stroke-width="2.0" stroke-linecap="round"/>
<line x1="643.4" y1="582.5" x2="666.9" y2="556.0" stroke="#222326" stroke-width="2.0" stroke-linecap="round"/>
<line x1="643.4" y1="582.5" x2="690.0" y2="615.0" stroke="#222326" stroke-width="2.0" stroke-linecap="round"/>
<line x1="643.4" y1="582.5" x2="625.0" y2="625.4" stroke="#222326" stroke-width="2.0" stroke-linecap="round"/>
<line x1="566.9" y1="625.4" x2="625.0" y2="625.4" stroke="#222326" stroke-width="2.0" stroke-linecap="round"/>
<line x1="625.0" y1="625.4" x2="638.2" y2="680.6" stroke="#222326" stroke-width="2.0" stroke-linecap="round"/>
<line x1="556.0" y1="569.0" x2="566.9" y2="625.4" stroke="#222326" stroke-width="2.0" stroke-linecap="round"/>
<line x1="484.0" y1="569.4" x2="566.9" y2="625.4" stroke="#222326" stroke-width="2.0" stroke-linecap="round"/>
<line x1="566.9" y1="625.4" x2="521.5" y2="663.2" stroke="#222326" stroke-width="2.0" stroke-linecap="round"/>
<line x1="566.9" y1="625.4" x2="566.0" y2="697.0" stroke="#222326" stroke-width="2.0" stroke-linecap="round"/>
<line x1="484.0" y1="642.5" x2="521.5" y2="663.2" stroke="#222326" stroke-width="2.0" stroke-linecap="round"/>
<line x1="521.5" y1="663.2" x2="484.0" y2="745.6" stroke="#222326" stroke-width="2.0" stroke-linecap="round"/>
<line x1="655.7" y1="661.5" x2="695.9" y2="635.5" stroke="#222326" stroke-width="2.0" stroke-linecap="round"/>
<line x1="655.7" y1="661.5" x2="638.2" y2="680.6" stroke="#222326" stroke-width="2.0" stroke-linecap="round"/>
<line x1="638.2" y1="680.6" x2="572.9" y2="700.3" stroke="#222326" stroke-width="2.0" stroke-linecap="round"/>
<line x1="638.2" y1="680.6" x2="639.4" y2="742.8" stroke="#222326" stroke-width="2.0" stroke-linecap="round"/>
<line x1="638.2" y1="680.6" x2="694.7" y2="710.3" stroke="#222326" stroke-width="2.0" stroke-linecap="round"/>
<line x1="484.0" y1="740.0" x2="546.0" y2="708.0" stroke="#222326" stroke-width="2.0" stroke-linecap="round"/>
<line x1="561.7" y1="712.6" x2="551.2" y2="751.7" stroke="#222326" stroke-width="2.0" stroke-linecap="round"/>
<line x1="484.0" y1="811.5" x2="547.2" y2="760.7" stroke="#222326" stroke-width="2.0" stroke-linecap="round"/>
<line x1="547.2" y1="760.7" x2="586.3" y2="781.9" stroke="#222326" stroke-width="2.0" stroke-linecap="round"/>
<line x1="639.4" y1="742.8" x2="608.7" y2="770.7" stroke="#222326" stroke-width="2.0" stroke-linecap="round"/>
<line x1="639.4" y1="742.8" x2="701.5" y2="775.9" stroke="#222326" stroke-width="2.0" stroke-linecap="round"/>
<line x1="598.6" y1="796.5" x2="621.2" y2="836.0" stroke="#222326" stroke-width="2.0" stroke-linecap="round"/>
<line x1="750.7" y1="502.0" x2="672.4" y2="549.4" stroke="#222326" stroke-width="2.0" stroke-linecap="round"/>
<line x1="750.7" y1="502.0" x2="741.7" y2="551.6" stroke="#222326" stroke-width="2.0" stroke-linecap="round"/>
<line x1="674.6" y1="557.2" x2="730.5" y2="560.5" stroke="#222326" stroke-width="2.0" stroke-linecap="round"/>
<line x1="754.0" y1="565.0" x2="832.0" y2="596.7" stroke="#222326" stroke-width="2.0" stroke-linecap="round"/>
<line x1="730.5" y1="574.0" x2="712.6" y2="603.0" stroke="#222326" stroke-width="2.0" stroke-linecap="round"/>
<line x1="708.2" y1="629.9" x2="745.1" y2="663.4" stroke="#222326" stroke-width="2.0" stroke-linecap="round"/>
<line x1="745.1" y1="663.4" x2="832.0" y2="632.4" stroke="#222326" stroke-width="2.0" stroke-linecap="round"/>
<line x1="697.0" y1="641.0" x2="694.7" y2="710.3" stroke="#222326" stroke-width="2.0" stroke-linecap="round"/>
<line x1="694.7" y1="710.3" x2="764.1" y2="724.9" stroke="#222326" stroke-width="2.0" stroke-linecap="round"/>
<line x1="694.7" y1="710.3" x2="719.4" y2="769.6" stroke="#222326" stroke-width="2.0" stroke-linecap="round"/>
<line x1="764.1" y1="724.9" x2="832.0" y2="684.4" stroke="#222326" stroke-width="2.0" stroke-linecap="round"/>
<line x1="764.1" y1="724.9" x2="756.9" y2="803.2" stroke="#222326" stroke-width="2.0" stroke-linecap="round"/>
<line x1="764.1" y1="724.9" x2="828.6" y2="836.0" stroke="#222326" stroke-width="2.0" stroke-linecap="round"/>
<line x1="726.1" y1="780.8" x2="748.4" y2="805.4" stroke="#222326" stroke-width="2.0" stroke-linecap="round"/>
<line x1="755.8" y1="811.0" x2="779.4" y2="836.0" stroke="#222326" stroke-width="2.0" stroke-linecap="round"/>
<line x1="695.9" y1="783.0" x2="680.3" y2="836.0" stroke="#222326" stroke-width="2.0" stroke-linecap="round"/>
<circle cx="519.2" cy="529.9" r="3.0" fill="#b99a48"/>
<circle cx="555.7" cy="529.9" r="3.0" fill="#b99a48"/>
<circle cx="572.5" cy="545.3" r="3.0" fill="#b99a48"/>
<circle cx="541.1" cy="552.7" r="3.0" fill="#b99a48"/>
<circle cx="562.8" cy="571.0" r="3.0" fill="#b99a48"/>
<circle cx="553.9" cy="577.3" r="3.0" fill="#b99a48"/>
<circle cx="640.0" cy="567.7" r="3.0" fill="#b99a48"/>
<circle cx="574.7" cy="615.1" r="3.0" fill="#b99a48"/>
<circle cx="653.9" cy="647.3" r="3.0" fill="#b99a48"/>
<circle cx="511.4" cy="671.7" r="3.0" fill="#b99a48"/>
<circle cx="656.4" cy="675.7" r="3.0" fill="#b99a48"/>
<circle cx="788.3" cy="540.4" r="3.0" fill="#b99a48"/>
<circle cx="727.2" cy="555.6" r="3.0" fill="#b99a48"/>
<circle cx="727.9" cy="567.9" r="3.0" fill="#b99a48"/>
<circle cx="694.7" cy="591.4" r="3.0" fill="#b99a48"/>
<circle cx="707.0" cy="595.7" r="3.0" fill="#b99a48"/>
<circle cx="783.6" cy="603.7" r="3.0" fill="#b99a48"/>
<circle cx="718.2" cy="622.5" r="3.0" fill="#b99a48"/>
<circle cx="679.8" cy="632.1" r="3.0" fill="#b99a48"/>
<circle cx="707.7" cy="638.4" r="3.0" fill="#b99a48"/>
<circle cx="558.4" cy="686.2" r="3.0" fill="#b99a48"/>
<circle cx="571.8" cy="690.6" r="3.0" fill="#b99a48"/>
<circle cx="627.3" cy="737.6" r="3.0" fill="#b99a48"/>
<circle cx="646.7" cy="733.2" r="3.0" fill="#b99a48"/>
<circle cx="533.8" cy="756.2" r="3.0" fill="#b99a48"/>
<circle cx="600.2" cy="762.5" r="3.0" fill="#b99a48"/>
<circle cx="579.6" cy="783.5" r="3.0" fill="#b99a48"/>
<circle cx="607.1" cy="790.9" r="3.0" fill="#b99a48"/>
<circle cx="699.2" cy="702.5" r="3.0" fill="#b99a48"/>
<circle cx="675.7" cy="715.5" r="3.0" fill="#b99a48"/>
<circle cx="754.5" cy="732.7" r="3.0" fill="#b99a48"/>
<circle cx="710.4" cy="786.0" r="3.0" fill="#b99a48"/>
<circle cx="752.5" cy="796.9" r="3.0" fill="#b99a48"/>
<polygon points="568.4,541.5 566.3,550.5 557.4,553.3 550.6,546.9 552.7,537.9 561.6,535.1" fill="#0b0b0b" stroke="#0b0b0b" stroke-width="1" stroke-linejoin="round"/>
<polygon points="563.2,558.3 561.1,567.3 552.2,570.1 545.4,563.7 547.5,554.7 556.4,551.9" fill="#0b0b0b" stroke="#0b0b0b" stroke-width="1" stroke-linejoin="round"/>
<polygon points="578.0,556.0 575.9,565.0 567.0,567.8 560.2,561.4 562.3,552.4 571.2,549.6" fill="#0b0b0b" stroke="#0b0b0b" stroke-width="1" stroke-linejoin="round"/>
<polygon points="550.9,570.1 548.8,579.1 539.9,581.9 533.1,575.5 535.2,566.5 544.1,563.7" fill="#0b0b0b" stroke="#0b0b0b" stroke-width="1" stroke-linejoin="round"/>
<polygon points="639.1,521.4 637.0,530.4 628.1,533.2 621.3,526.8 623.4,517.8 632.3,515.0" fill="#0b0b0b" stroke="#0b0b0b" stroke-width="1" stroke-linejoin="round"/>
<polygon points="674.6,537.3 672.5,546.3 663.6,549.1 656.8,542.7 658.9,533.7 667.8,530.9" fill="#0b0b0b" stroke="#0b0b0b" stroke-width="1" stroke-linejoin="round"/>
<polygon points="675.8,553.3 673.7,562.3 664.8,565.1 658.0,558.7 660.1,549.7 669.0,546.9" fill="#0b0b0b" stroke="#0b0b0b" stroke-width="1" stroke-linejoin="round"/>
<polygon points="652.3,579.8 650.2,588.8 641.3,591.6 634.5,585.2 636.6,576.2 645.5,573.4" fill="#0b0b0b" stroke="#0b0b0b" stroke-width="1" stroke-linejoin="round"/>
<polygon points="575.8,622.7 573.7,631.7 564.8,634.5 558.0,628.1 560.1,619.1 569.0,616.3" fill="#0b0b0b" stroke="#0b0b0b" stroke-width="1" stroke-linejoin="round"/>
<polygon points="530.4,660.5 528.3,669.5 519.4,672.3 512.6,665.9 514.7,656.9 523.6,654.1" fill="#0b0b0b" stroke="#0b0b0b" stroke-width="1" stroke-linejoin="round"/>
<polygon points="664.6,658.8 662.5,667.8 653.6,670.6 646.8,664.2 648.9,655.2 657.8,652.4" fill="#0b0b0b" stroke="#0b0b0b" stroke-width="1" stroke-linejoin="round"/>
<polygon points="707.0,604.8 704.9,613.8 696.0,616.6 689.2,610.2 691.3,601.2 700.2,598.4" fill="#0b0b0b" stroke="#0b0b0b" stroke-width="1" stroke-linejoin="round"/>
<polygon points="721.5,607.1 719.4,616.1 710.5,618.9 703.7,612.5 705.8,603.5 714.7,600.7" fill="#0b0b0b" stroke="#0b0b0b" stroke-width="1" stroke-linejoin="round"/>
<polygon points="699.2,618.2 697.1,627.2 688.2,630.0 681.4,623.6 683.5,614.6 692.4,611.8" fill="#0b0b0b" stroke="#0b0b0b" stroke-width="1" stroke-linejoin="round"/>
<polygon points="710.4,620.5 708.3,629.5 699.4,632.3 692.6,625.9 694.7,616.9 703.6,614.1" fill="#0b0b0b" stroke="#0b0b0b" stroke-width="1" stroke-linejoin="round"/>
<polygon points="704.8,632.8 702.7,641.8 693.8,644.6 687.0,638.2 689.1,629.2 698.0,626.4" fill="#0b0b0b" stroke="#0b0b0b" stroke-width="1" stroke-linejoin="round"/>
<polygon points="560.1,695.8 558.0,704.8 549.1,707.6 542.3,701.2 544.4,692.2 553.3,689.4" fill="#0b0b0b" stroke="#0b0b0b" stroke-width="1" stroke-linejoin="round"/>
<polygon points="574.0,700.9 571.9,709.9 563.0,712.7 556.2,706.3 558.3,697.3 567.2,694.5" fill="#0b0b0b" stroke="#0b0b0b" stroke-width="1" stroke-linejoin="round"/>
<polygon points="648.3,740.1 646.2,749.1 637.3,751.9 630.5,745.5 632.6,736.5 641.5,733.7" fill="#0b0b0b" stroke="#0b0b0b" stroke-width="1" stroke-linejoin="round"/>
<polygon points="556.1,758.0 554.0,767.0 545.1,769.8 538.3,763.4 540.4,754.4 549.3,751.6" fill="#0b0b0b" stroke="#0b0b0b" stroke-width="1" stroke-linejoin="round"/>
<polygon points="599.7,769.2 597.6,778.2 588.7,781.0 581.9,774.6 584.0,765.6 592.9,762.8" fill="#0b0b0b" stroke="#0b0b0b" stroke-width="1" stroke-linejoin="round"/>
<polygon points="613.1,774.7 611.0,783.7 602.1,786.5 595.3,780.1 597.4,771.1 606.3,768.3" fill="#0b0b0b" stroke="#0b0b0b" stroke-width="1" stroke-linejoin="round"/>
<polygon points="600.8,785.9 598.7,794.9 589.8,797.7 583.0,791.3 585.1,782.3 594.0,779.5" fill="#0b0b0b" stroke="#0b0b0b" stroke-width="1" stroke-linejoin="round"/>
<polygon points="773.0,722.2 770.9,731.2 762.0,734.0 755.2,727.6 757.3,718.6 766.2,715.8" fill="#0b0b0b" stroke="#0b0b0b" stroke-width="1" stroke-linejoin="round"/>
<polygon points="710.4,773.2 708.3,782.2 699.4,785.0 692.6,778.6 694.7,769.6 703.6,766.8" fill="#0b0b0b" stroke="#0b0b0b" stroke-width="1" stroke-linejoin="round"/>
<polygon points="727.1,773.2 725.0,782.2 716.1,785.0 709.3,778.6 711.4,769.6 720.3,766.8" fill="#0b0b0b" stroke="#0b0b0b" stroke-width="1" stroke-linejoin="round"/>
<polygon points="764.7,808.3 762.6,817.3 753.7,820.1 746.9,813.7 749.0,804.7 757.9,801.9" fill="#0b0b0b" stroke="#0b0b0b" stroke-width="1" stroke-linejoin="round"/>
<polygon points="739.5,548.0 738.4,552.6 733.9,554.0 730.5,550.8 731.6,546.2 736.1,544.8" fill="#0b0b0b" stroke="#0b0b0b" stroke-width="1" stroke-linejoin="round"/>
<polygon points="750.7,549.7 749.6,554.3 745.1,555.7 741.7,552.5 742.8,547.9 747.3,546.5" fill="#0b0b0b" stroke="#0b0b0b" stroke-width="1" stroke-linejoin="round"/>
<polygon points="758.5,558.7 757.4,563.3 752.9,564.7 749.5,561.5 750.6,556.9 755.1,555.5" fill="#0b0b0b" stroke="#0b0b0b" stroke-width="1" stroke-linejoin="round"/>
<polygon points="737.9,574.8 736.8,579.4 732.3,580.8 728.9,577.6 730.0,573.0 734.5,571.6" fill="#0b0b0b" stroke="#0b0b0b" stroke-width="1" stroke-linejoin="round"/>
<polygon points="770.2,570.4 769.2,574.8 764.9,576.1 761.6,573.0 762.6,568.6 766.9,567.3" fill="#0b0b0b" stroke="#0b0b0b" stroke-width="1" stroke-linejoin="round"/>
<polygon points="752.9,572.9 751.6,578.6 746.0,580.3 741.7,576.3 743.0,570.6 748.6,568.9" fill="#0b0b0b" stroke="#0b0b0b" stroke-width="1" stroke-linejoin="round"/>
<polygon points="747.3,559.9 745.5,567.9 737.7,570.3 731.7,564.7 733.5,556.7 741.3,554.3" fill="#2b8fdc" stroke="#2b8fdc" stroke-width="1" stroke-linejoin="round"/>
<polygon points="744.1,560.9 743.0,565.6 738.4,567.0 734.9,563.7 736.0,559.0 740.6,557.6" fill="#8a8682" stroke="#8a8682" stroke-width="1" stroke-linejoin="round"/>
</g>
<rect x="9.2" y="502.5" width="344.0" height="332.2" fill="#e8ebec" stroke="#0b0b0b" stroke-width="4"/>
<clipPath id="pc4"><rect x="10.2" y="503.5" width="342.0" height="330.2"/></clipPath>
<g clip-path="url(#pc4)">
<line x1="7.3" y1="570.6" x2="77.3" y2="561.0" stroke="#222326" stroke-width="2.0" stroke-linecap="round"/>
<line x1="77.3" y1="561.0" x2="136.5" y2="548.9" stroke="#222326" stroke-width="2.0" stroke-linecap="round"/>
<line x1="98.4" y1="504.2" x2="86.1" y2="538.2" stroke="#222326" stroke-width="2.0" stroke-linecap="round"/>
<line x1="133.1" y1="502.0" x2="153.5" y2="524.1" stroke="#222326" stroke-width="2.0" stroke-linecap="round"/>
<line x1="176.7" y1="502.0" x2="153.5" y2="524.1" stroke="#222326" stroke-width="2.0" stroke-linecap="round"/>
<line x1="153.5" y1="524.1" x2="136.5" y2="548.9" stroke="#222326" stroke-width="2.0" stroke-linecap="round"/>
<line x1="153.5" y1="524.1" x2="189.0" y2="547.0" stroke="#222326" stroke-width="2.0" stroke-linecap="round"/>
<line x1="136.5" y1="548.9" x2="166.7" y2="582.5" stroke="#222326" stroke-width="2.0" stroke-linecap="round"/>
<line x1="166.7" y1="582.5" x2="190.2" y2="556.0" stroke="#222326" stroke-width="2.0" stroke-linecap="round"/>
<line x1="166.7" y1="582.5" x2="213.3" y2="615.0" stroke="#222326" stroke-width="2.0" stroke-linecap="round"/>
<line x1="166.7" y1="582.5" x2="148.3" y2="625.4" stroke="#222326" stroke-width="2.0" stroke-linecap="round"/>
<line x1="90.2" y1="625.4" x2="148.3" y2="625.4" stroke="#222326" stroke-width="2.0" stroke-linecap="round"/>
<line x1="148.3" y1="625.4" x2="161.5" y2="680.6" stroke="#222326" stroke-width="2.0" stroke-linecap="round"/>
<line x1="79.3" y1="569.0" x2="90.2" y2="625.4" stroke="#222326" stroke-width="2.0" stroke-linecap="round"/>
<line x1="7.3" y1="569.4" x2="90.2" y2="625.4" stroke="#222326" stroke-width="2.0" stroke-linecap="round"/>
<line x1="90.2" y1="625.4" x2="44.8" y2="663.2" stroke="#222326" stroke-width="2.0" stroke-linecap="round"/>
<line x1="90.2" y1="625.4" x2="89.3" y2="697.0" stroke="#222326" stroke-width="2.0" stroke-linecap="round"/>
<line x1="7.3" y1="642.5" x2="44.8" y2="663.2" stroke="#222326" stroke-width="2.0" stroke-linecap="round"/>
<line x1="44.8" y1="663.2" x2="7.3" y2="745.6" stroke="#222326" stroke-width="2.0" stroke-linecap="round"/>
<line x1="179.0" y1="661.5" x2="219.2" y2="635.5" stroke="#222326" stroke-width="2.0" stroke-linecap="round"/>
<line x1="179.0" y1="661.5" x2="161.5" y2="680.6" stroke="#222326" stroke-width="2.0" stroke-linecap="round"/>
<line x1="161.5" y1="680.6" x2="96.2" y2="700.3" stroke="#222326" stroke-width="2.0" stroke-linecap="round"/>
<line x1="161.5" y1="680.6" x2="162.7" y2="742.8" stroke="#222326" stroke-width="2.0" stroke-linecap="round"/>
<line x1="161.5" y1="680.6" x2="218.0" y2="710.3" stroke="#222326" stroke-width="2.0" stroke-linecap="round"/>
<line x1="7.3" y1="740.0" x2="69.3" y2="708.0" stroke="#222326" stroke-width="2.0" stroke-linecap="round"/>
<line x1="85.0" y1="712.6" x2="74.5" y2="751.7" stroke="#222326" stroke-width="2.0" stroke-linecap="round"/>
<line x1="7.3" y1="811.5" x2="70.5" y2="760.7" stroke="#222326" stroke-width="2.0" stroke-linecap="round"/>
<line x1="70.5" y1="760.7" x2="109.6" y2="781.9" stroke="#222326" stroke-width="2.0" stroke-linecap="round"/>
<line x1="162.7" y1="742.8" x2="132.0" y2="770.7" stroke="#222326" stroke-width="2.0" stroke-linecap="round"/>
<line x1="162.7" y1="742.8" x2="224.8" y2="775.9" stroke="#222326" stroke-width="2.0" stroke-linecap="round"/>
<line x1="121.9" y1="796.5" x2="144.5" y2="836.0" stroke="#222326" stroke-width="2.0" stroke-linecap="round"/>
<line x1="274.0" y1="502.0" x2="195.7" y2="549.4" stroke="#222326" stroke-width="2.0" stroke-linecap="round"/>
<line x1="274.0" y1="502.0" x2="265.0" y2="551.6" stroke="#222326" stroke-width="2.0" stroke-linecap="round"/>
<line x1="197.9" y1="557.2" x2="253.8" y2="560.5" stroke="#222326" stroke-width="2.0" stroke-linecap="round"/>
<line x1="277.3" y1="565.0" x2="355.3" y2="596.7" stroke="#222326" stroke-width="2.0" stroke-linecap="round"/>
<line x1="253.8" y1="574.0" x2="235.9" y2="603.0" stroke="#222326" stroke-width="2.0" stroke-linecap="round"/>
<line x1="231.5" y1="629.9" x2="268.4" y2="663.4" stroke="#222326" stroke-width="2.0" stroke-linecap="round"/>
<line x1="268.4" y1="663.4" x2="355.3" y2="632.4" stroke="#222326" stroke-width="2.0" stroke-linecap="round"/>
<line x1="220.3" y1="641.0" x2="218.0" y2="710.3" stroke="#222326" stroke-width="2.0" stroke-linecap="round"/>
<line x1="218.0" y1="710.3" x2="287.4" y2="724.9" stroke="#222326" stroke-width="2.0" stroke-linecap="round"/>
<line x1="218.0" y1="710.3" x2="242.7" y2="769.6" stroke="#222326" stroke-width="2.0" stroke-linecap="round"/>
<line x1="287.4" y1="724.9" x2="355.3" y2="684.4" stroke="#222326" stroke-width="2.0" stroke-linecap="round"/>
<line x1="287.4" y1="724.9" x2="280.2" y2="803.2" stroke="#222326" stroke-width="2.0" stroke-linecap="round"/>
<line x1="287.4" y1="724.9" x2="351.9" y2="836.0" stroke="#222326" stroke-width="2.0" stroke-linecap="round"/>
<line x1="249.4" y1="780.8" x2="271.7" y2="805.4" stroke="#222326" stroke-width="2.0" stroke-linecap="round"/>
<line x1="279.1" y1="811.0" x2="302.7" y2="836.0" stroke="#222326" stroke-width="2.0" stroke-linecap="round"/>
<line x1="219.2" y1="783.0" x2="203.6" y2="836.0" stroke="#222326" stroke-width="2.0" stroke-linecap="round"/>
<polygon points="57.7,535.9 60.4,533.2 63.1,535.9 60.4,538.6" fill="#92865f"/>
<polygon points="77.2,530.3 79.9,527.6 82.6,530.3 79.9,533.0" fill="#92865f"/>
<polygon points="93.9,545.5 96.6,542.8 99.3,545.5 96.6,548.2" fill="#92865f"/>
<polygon points="61.7,553.4 64.4,550.7 67.1,553.4 64.4,556.1" fill="#92865f"/>
<polygon points="101.3,563.9 104.0,561.2 106.7,563.9 104.0,566.6" fill="#92865f"/>
<polygon points="84.1,571.3 86.8,568.6 89.5,571.3 86.8,574.0" fill="#92865f"/>
<polygon points="74.5,577.8 77.2,575.1 79.9,577.8 77.2,580.5" fill="#92865f"/>
<polygon points="175.2,537.0 177.9,534.3 180.6,537.0 177.9,539.7" fill="#92865f"/>
<polygon points="162.4,571.1 165.1,568.4 167.8,571.1 165.1,573.8" fill="#92865f"/>
<polygon points="96.4,615.3 99.1,612.6 101.8,615.3 99.1,618.0" fill="#92865f"/>
<polygon points="76.7,623.2 79.4,620.5 82.1,623.2 79.4,625.9" fill="#92865f"/>
<polygon points="175.2,647.8 177.9,645.1 180.6,647.8 177.9,650.5" fill="#92865f"/>
<polygon points="32.0,672.0 34.7,669.3 37.4,672.0 34.7,674.7" fill="#92865f"/>
<polygon points="176.6,676.0 179.3,673.3 182.0,676.0 179.3,678.7" fill="#92865f"/>
<polygon points="200.8,552.0 203.5,549.3 206.2,552.0 203.5,554.7" fill="#92865f"/>
<polygon points="248.4,556.1 251.1,553.4 253.8,556.1 251.1,558.8" fill="#92865f"/>
<polygon points="248.9,567.9 251.6,565.2 254.3,567.9 251.6,570.6" fill="#92865f"/>
<polygon points="309.3,540.9 312.0,538.2 314.7,540.9 312.0,543.6" fill="#92865f"/>
<polygon points="215.3,591.9 218.0,589.2 220.7,591.9 218.0,594.6" fill="#92865f"/>
<polygon points="228.3,595.9 231.0,593.2 233.7,595.9 231.0,598.6" fill="#92865f"/>
<polygon points="241.7,601.3 244.4,598.6 247.1,601.3 244.4,604.0" fill="#92865f"/>
<polygon points="203.0,606.0 205.7,603.3 208.4,606.0 205.7,608.7" fill="#92865f"/>
<polygon points="239.5,622.7 242.2,620.0 244.9,622.7 242.2,625.4" fill="#92865f"/>
<polygon points="200.8,632.6 203.5,629.9 206.2,632.6 203.5,635.3" fill="#92865f"/>
<polygon points="229.2,638.8 231.9,636.1 234.6,638.8 231.9,641.5" fill="#92865f"/>
<polygon points="304.1,604.2 306.8,601.5 309.5,604.2 306.8,606.9" fill="#92865f"/>
<polygon points="79.0,686.4 81.7,683.7 84.4,686.4 81.7,689.1" fill="#92865f"/>
<polygon points="93.0,691.3 95.7,688.6 98.4,691.3 95.7,694.0" fill="#92865f"/>
<polygon points="148.3,737.9 151.0,735.2 153.7,737.9 151.0,740.6" fill="#92865f"/>
<polygon points="168.0,733.8 170.7,731.1 173.4,733.8 170.7,736.5" fill="#92865f"/>
<polygon points="55.0,756.6 57.7,753.9 60.4,756.6 57.7,759.3" fill="#92865f"/>
<polygon points="100.2,764.5 102.9,761.8 105.6,764.5 102.9,767.2" fill="#92865f"/>
<polygon points="121.5,762.9 124.2,760.2 126.9,762.9 124.2,765.6" fill="#92865f"/>
<polygon points="100.2,783.7 102.9,781.0 105.6,783.7 102.9,786.4" fill="#92865f"/>
<polygon points="127.7,790.9 130.4,788.2 133.1,790.9 130.4,793.6" fill="#92865f"/>
<polygon points="220.3,703.2 223.0,700.5 225.7,703.2 223.0,705.9" fill="#92865f"/>
<polygon points="282.9,712.1 285.6,709.4 288.3,712.1 285.6,714.8" fill="#92865f"/>
<polygon points="275.3,732.7 278.0,730.0 280.7,732.7 278.0,735.4" fill="#92865f"/>
<polygon points="226.5,762.9 229.2,760.2 231.9,762.9 229.2,765.6" fill="#92865f"/>
<polygon points="231.0,786.4 233.7,783.7 236.4,786.4 233.7,789.1" fill="#92865f"/>
<polygon points="273.5,797.1 276.2,794.4 278.9,797.1 276.2,799.8" fill="#92865f"/>
<polygon points="91.7,541.5 89.6,550.5 80.7,553.3 73.9,546.9 76.0,537.9 84.9,535.1" fill="#0b0b0b" stroke="#0b0b0b" stroke-width="1" stroke-linejoin="round"/>
<polygon points="86.5,558.3 84.4,567.3 75.5,570.1 68.7,563.7 70.8,554.7 79.7,551.9" fill="#0b0b0b" stroke="#0b0b0b" stroke-width="1" stroke-linejoin="round"/>
<polygon points="101.3,556.0 99.2,565.0 90.3,567.8 83.5,561.4 85.6,552.4 94.5,549.6" fill="#0b0b0b" stroke="#0b0b0b" stroke-width="1" stroke-linejoin="round"/>
<polygon points="74.2,570.1 72.1,579.1 63.2,581.9 56.4,575.5 58.5,566.5 67.4,563.7" fill="#0b0b0b" stroke="#0b0b0b" stroke-width="1" stroke-linejoin="round"/>
<polygon points="162.4,521.4 160.3,530.4 151.4,533.2 144.6,526.8 146.7,517.8 155.6,515.0" fill="#0b0b0b" stroke="#0b0b0b" stroke-width="1" stroke-linejoin="round"/>
<polygon points="197.9,537.3 195.8,546.3 186.9,549.1 180.1,542.7 182.2,533.7 191.1,530.9" fill="#0b0b0b" stroke="#0b0b0b" stroke-width="1" stroke-linejoin="round"/>
<polygon points="199.1,553.3 197.0,562.3 188.1,565.1 181.3,558.7 183.4,549.7 192.3,546.9" fill="#0b0b0b" stroke="#0b0b0b" stroke-width="1" stroke-linejoin="round"/>
<polygon points="175.6,579.8 173.5,588.8 164.6,591.6 157.8,585.2 159.9,576.2 168.8,573.4" fill="#0b0b0b" stroke="#0b0b0b" stroke-width="1" stroke-linejoin="round"/>
<polygon points="99.1,622.7 97.0,631.7 88.1,634.5 81.3,628.1 83.4,619.1 92.3,616.3" fill="#0b0b0b" stroke="#0b0b0b" stroke-width="1" stroke-linejoin="round"/>
<polygon points="53.7,660.5 51.6,669.5 42.7,672.3 35.9,665.9 38.0,656.9 46.9,654.1" fill="#0b0b0b" stroke="#0b0b0b" stroke-width="1" stroke-linejoin="round"/>
<polygon points="187.9,658.8 185.8,667.8 176.9,670.6 170.1,664.2 172.2,655.2 181.1,652.4" fill="#0b0b0b" stroke="#0b0b0b" stroke-width="1" stroke-linejoin="round"/>
<polygon points="230.3,604.8 228.2,613.8 219.3,616.6 212.5,610.2 214.6,601.2 223.5,598.4" fill="#0b0b0b" stroke="#0b0b0b" stroke-width="1" stroke-linejoin="round"/>
<polygon points="244.8,607.1 242.7,616.1 233.8,618.9 227.0,612.5 229.1,603.5 238.0,600.7" fill="#0b0b0b" stroke="#0b0b0b" stroke-width="1" stroke-linejoin="round"/>
<polygon points="222.5,618.2 220.4,627.2 211.5,630.0 204.7,623.6 206.8,614.6 215.7,611.8" fill="#0b0b0b" stroke="#0b0b0b" stroke-width="1" stroke-linejoin="round"/>
<polygon points="233.7,620.5 231.6,629.5 222.7,632.3 215.9,625.9 218.0,616.9 226.9,614.1" fill="#0b0b0b" stroke="#0b0b0b" stroke-width="1" stroke-linejoin="round"/>
<polygon points="228.1,632.8 226.0,641.8 217.1,644.6 210.3,638.2 212.4,629.2 221.3,626.4" fill="#0b0b0b" stroke="#0b0b0b" stroke-width="1" stroke-linejoin="round"/>
<polygon points="83.4,695.8 81.3,704.8 72.4,707.6 65.6,701.2 67.7,692.2 76.6,689.4" fill="#0b0b0b" stroke="#0b0b0b" stroke-width="1" stroke-linejoin="round"/>
<polygon points="97.3,700.9 95.2,709.9 86.3,712.7 79.5,706.3 81.6,697.3 90.5,694.5" fill="#0b0b0b" stroke="#0b0b0b" stroke-width="1" stroke-linejoin="round"/>
<polygon points="171.6,740.1 169.5,749.1 160.6,751.9 153.8,745.5 155.9,736.5 164.8,733.7" fill="#0b0b0b" stroke="#0b0b0b" stroke-width="1" stroke-linejoin="round"/>
<polygon points="79.4,758.0 77.3,767.0 68.4,769.8 61.6,763.4 63.7,754.4 72.6,751.6" fill="#0b0b0b" stroke="#0b0b0b" stroke-width="1" stroke-linejoin="round"/>
<polygon points="123.0,769.2 120.9,778.2 112.0,781.0 105.2,774.6 107.3,765.6 116.2,762.8" fill="#0b0b0b" stroke="#0b0b0b" stroke-width="1" stroke-linejoin="round"/>
<polygon points="136.4,774.7 134.3,783.7 125.4,786.5 118.6,780.1 120.7,771.1 129.6,768.3" fill="#0b0b0b" stroke="#0b0b0b" stroke-width="1" stroke-linejoin="round"/>
<polygon points="124.1,785.9 122.0,794.9 113.1,797.7 106.3,791.3 108.4,782.3 117.3,779.5" fill="#0b0b0b" stroke="#0b0b0b" stroke-width="1" stroke-linejoin="round"/>
<polygon points="296.3,722.2 294.2,731.2 285.3,734.0 278.5,727.6 280.6,718.6 289.5,715.8" fill="#0b0b0b" stroke="#0b0b0b" stroke-width="1" stroke-linejoin="round"/>
<polygon points="233.7,773.2 231.6,782.2 222.7,785.0 215.9,778.6 218.0,769.6 226.9,766.8" fill="#0b0b0b" stroke="#0b0b0b" stroke-width="1" stroke-linejoin="round"/>
<polygon points="250.4,773.2 248.3,782.2 239.4,785.0 232.6,778.6 234.7,769.6 243.6,766.8" fill="#0b0b0b" stroke="#0b0b0b" stroke-width="1" stroke-linejoin="round"/>
<polygon points="288.0,808.3 285.9,817.3 277.0,820.1 270.2,813.7 272.3,804.7 281.2,801.9" fill="#0b0b0b" stroke="#0b0b0b" stroke-width="1" stroke-linejoin="round"/>
<polygon points="262.8,548.0 261.7,552.6 257.2,554.0 253.8,550.8 254.9,546.2 259.4,544.8" fill="#0b0b0b" stroke="#0b0b0b" stroke-width="1" stroke-linejoin="round"/>
<polygon points="274.0,549.7 272.9,554.3 268.4,555.7 265.0,552.5 266.1,547.9 270.6,546.5" fill="#0b0b0b" stroke="#0b0b0b" stroke-width="1" stroke-linejoin="round"/>
<polygon points="281.8,558.7 280.7,563.3 276.2,564.7 272.8,561.5 273.9,556.9 278.4,555.5" fill="#0b0b0b" stroke="#0b0b0b" stroke-width="1" stroke-linejoin="round"/>
<polygon points="261.2,574.8 260.1,579.4 255.6,580.8 252.2,577.6 253.3,573.0 257.8,571.6" fill="#0b0b0b" stroke="#0b0b0b" stroke-width="1" stroke-linejoin="round"/>
<ellipse cx="282.3" cy="570.8" rx="5.0" ry="3.9" transform="rotate(12 282.3 570.8)" fill="#0b0b0b"/>
<polygon points="276.2,572.9 274.9,578.6 269.3,580.3 265.0,576.3 266.3,570.6 271.9,568.9" fill="#0b0b0b" stroke="#0b0b0b" stroke-width="1" stroke-linejoin="round"/>
<polygon points="270.4,560.0 268.6,567.7 261.0,570.0 255.2,564.6 257.0,556.9 264.6,554.6" fill="#0b0b0b" stroke="#0b0b0b" stroke-width="1" stroke-linejoin="round"/>
</g>
<line x1="459.5" y1="483.0" x2="525.0" y2="558.2" stroke="#222326" stroke-width="2.0"/>
<polygon points="531.2,565.4 520.3,559.6 527.0,553.8" fill="#0b0b0b"/>
<line x1="740.6" y1="687.3" x2="714.3" y2="698.2" stroke="#222326" stroke-width="2.0"/>
<polygon points="705.5,701.8 714.4,693.3 717.8,701.5" fill="#0b0b0b"/>
<line x1="80.9" y1="472.1" x2="65.4" y2="521.2" stroke="#222326" stroke-width="2.0"/>
<polygon points="62.6,530.3 61.9,518.0 70.2,520.6" fill="#0b0b0b"/>
<line x1="150.3" y1="472.1" x2="171.8" y2="521.6" stroke="#222326" stroke-width="2.0"/>
<polygon points="175.6,530.3 167.0,521.5 175.1,518.0" fill="#0b0b0b"/>
<line x1="340.0" y1="482.7" x2="280.9" y2="539.4" stroke="#222326" stroke-width="2.0"/>
<polygon points="274.0,546.0 279.3,534.9 285.3,541.2" fill="#0b0b0b"/>
<text x="62" y="49.3" font-size="20" textLength="98" lengthAdjust="spacing">Si powders</text>
<text x="220.4" y="102.3" font-size="19.6" textLength="112.5" lengthAdjust="spacing">TAl powders</text>
<text x="62.3" y="299.6" font-size="20" textLength="95" lengthAdjust="spacing">C powders</text>
<text x="360" y="330" font-size="20" textLength="86" lengthAdjust="spacing">α-Ti/β-Ti</text>
<text x="466.3" y="22.5" font-size="20" textLength="93.5" lengthAdjust="spacing">C powders</text>
<text x="761.5" y="22.5" font-size="20" textLength="114.5" lengthAdjust="spacing">TiC particles</text>
<rect x="716" y="191" width="24" height="17" fill="#e8ebec"/>
<text x="714.2" y="205.9" font-size="20" textLength="33" lengthAdjust="spacing">[Si]</text>
<text x="742.8" y="692.4" font-size="20" textLength="32.5" lengthAdjust="spacing">[Si]</text>
<text x="342" y="473" font-size="20" textLength="116" lengthAdjust="spacing">TiC particles</text>
<text x="36" y="459.6" font-size="20" textLength="131" lengthAdjust="spacing">Ti<tspan font-size="10" dy="3.5">5</tspan><tspan dy="-3.5">Si</tspan><tspan font-size="10" dy="3.5">3</tspan><tspan dy="-3.5"> powders</tspan></text>
<text x="208" y="425.5" font-size="19.5" textLength="32" lengthAdjust="spacing" fill="#222"><tspan class="it">t</tspan>=<tspan class="it">t</tspan><tspan font-size="10" dy="3.5">0</tspan></text>
<text x="613.3" y="429.8" font-size="19.5" textLength="92" lengthAdjust="spacing" fill="#222"><tspan class="it">t</tspan>=<tspan class="it">t</tspan><tspan font-size="10" dy="3.5">1</tspan><tspan dy="-3.5">(</tspan><tspan class="it">t</tspan><tspan font-size="10" dy="3.5">1</tspan><tspan dy="-3.5">&gt;</tspan><tspan class="it">t</tspan><tspan font-size="10" dy="3.5">0</tspan><tspan dy="-3.5">)</tspan></text>
<text x="140" y="865.5" font-size="19.5" textLength="92" lengthAdjust="spacing" fill="#222"><tspan class="it">t</tspan>=<tspan class="it">t</tspan><tspan font-size="10" dy="3.5">3</tspan><tspan dy="-3.5">(</tspan><tspan class="it">t</tspan><tspan font-size="10" dy="3.5">3</tspan><tspan dy="-3.5">&gt;</tspan><tspan class="it">t</tspan><tspan font-size="10" dy="3.5">2</tspan><tspan dy="-3.5">)</tspan></text>
<text x="637" y="869.5" font-size="19.5" textLength="92" lengthAdjust="spacing" fill="#222"><tspan class="it">t</tspan>=<tspan class="it">t</tspan><tspan font-size="10" dy="3.5">2</tspan><tspan dy="-3.5">(</tspan><tspan class="it">t</tspan><tspan font-size="10" dy="3.5">2</tspan><tspan dy="-3.5">&gt;</tspan><tspan class="it">t</tspan><tspan font-size="10" dy="3.5">1</tspan><tspan dy="-3.5">)</tspan></text>
<text y="904.4" font-size="21.5" class="cj" xml:space="preserve"><tspan x="272.6">图 </tspan><tspan x="299.8" font-size="23.3">7 </tspan><tspan x="325.6" font-size="23.3">Ti-C-Si </tspan><tspan x="403.5" letter-spacing="2.2">体系微观组织演变过程</tspan></text>
<text x="163.2" y="933.4" font-size="23.5" textLength="586" lengthAdjust="spacing">Fig.7&#160;&#160;Microstructure evolution of the Ti-C-Si reaction system</text>
<g fill="none" stroke="#e2f8e2" stroke-width="1.2" style="mix-blend-mode:multiply"><polyline points="239.1,19.7 258.7,0.0"/><polyline points="257.0,17.9 282.0,42.9 307.1,16.1 328.5,32.2 298.1,62.6 317.8,80.5 351.8,48.3 375.1,69.8 342.8,103.8 362.5,125.3 452.0,34.0 427.0,7.2 398.3,35.8 375.1,26.8 401.9,0.0"/><polyline points="194.3,23.3 215.8,0.0"/><polyline points="194.3,23.3 308.8,137.8"/><polyline points="180.0,62.6 265.9,150.3"/><polyline points="364.3,143.2 500.0,7.2"/><polyline points="348.2,0.0 359.0,5.4 369.7,0.0"/><polyline points="179.0,64.3 22.4,226.5 162.2,366.3 335.6,190.2"/><polyline points="41.9,226.5 162.2,346.8 313.2,195.7"/><polyline points="72.7,162.2 134.2,223.7 184.6,173.4"/><polyline points="195.7,167.8 257.3,229.3 234.9,251.7"/></g>
</svg>
</body></html>
